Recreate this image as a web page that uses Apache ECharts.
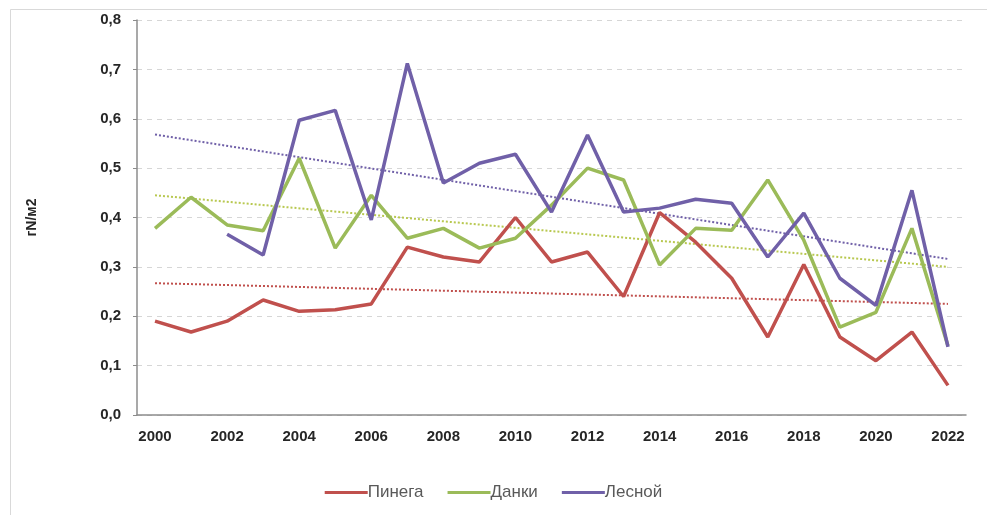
<!DOCTYPE html>
<html>
<head>
<meta charset="utf-8">
<script src="https://cdn.jsdelivr.net/npm/echarts@6/dist/echarts.min.js"></script>
<style>html,body{margin:0;padding:0;background:#fff}#c{width:987px;height:515px}</style>
</head>
<body>
<div id="c"></div>
<script>
var years = ['2000','2001','2002','2003','2004','2005','2006','2007','2008','2009','2010','2011','2012','2013','2014','2015','2016','2017','2018','2019','2020','2021','2022'];
var pinega = [0.19,0.168,0.19,0.233,0.21,0.213,0.225,0.34,0.32,0.31,0.40,0.31,0.33,0.24,0.41,0.35,0.277,0.158,0.305,0.158,0.11,0.168,0.06];
var danki  = [0.378,0.441,0.385,0.373,0.52,0.338,0.445,0.358,0.378,0.338,0.358,0.425,0.50,0.476,0.304,0.378,0.374,0.476,0.354,0.178,0.208,0.378,0.14];
var lesnoy = [null,null,0.366,0.324,0.597,0.617,0.395,0.712,0.47,0.51,0.528,0.411,0.567,0.411,0.419,0.437,0.429,0.32,0.409,0.277,0.222,0.455,0.138];
// trend line endpoints (2000, 2022)
var trendPinega = [0.267, 0.225];
var trendDanki  = [0.445, 0.300];
var trendLesnoy = [0.568, 0.316];
var yTicks = ['0,0','0,1','0,2','0,3','0,4','0,5','0,6','0,7','0,8'];
var names = ['Пинега','Данки','Лесной'];
var colors = ['#C0504D','#9BBB59','#7060A8'];

function trend(ends){ return [[years[0], ends[0]], [years[years.length-1], ends[1]]]; }
function lineS(name, data, color){
  return {name:name,type:'line',data:data,symbol:'none',smooth:false,
    lineStyle:{color:color,width:3.5},itemStyle:{color:color},z:3};
}
function trendS(data, color){
  return {type:'line',data:data,symbol:'none',silent:true,
    lineStyle:{color:color,width:2,type:[2,2]},z:2};
}
var chart = echarts.init(document.getElementById('c'));
chart.setOption({
  animation:false,
  backgroundColor:'#fff',
  graphic:[{type:'rect',shape:{x:10.5,y:9.5,width:1000,height:520},style:{fill:'none',stroke:'#d9d9d9',lineWidth:1},silent:true}],
  grid:{left:137,right:21,top:20,bottom:100},
  legend:{data:names,top:479,left:'center',icon:'rect',itemWidth:43,itemHeight:3,itemGap:24,
    textStyle:{fontFamily:'Liberation Sans, Arial',fontSize:17,color:'#595959',padding:[0,0,0,-5]}},
  xAxis:{type:'category',data:years,boundaryGap:true,
    axisLine:{lineStyle:{color:'#8c8c8c',width:1.5}},
    axisTick:{interval:0,length:4,lineStyle:{color:'#8c8c8c'}},
    axisLabel:{interval:1,margin:14,fontFamily:'Liberation Sans, Arial',fontWeight:'bold',fontSize:15,color:'#262626'}},
  yAxis:{type:'value',min:0,max:0.8,interval:0.1,
    name:'гN/м2',nameLocation:'middle',nameGap:98,nameRotate:90,
    nameTextStyle:{fontFamily:'Liberation Sans, Arial',fontWeight:'bold',fontSize:14,color:'#262626'},
    axisLine:{show:true,lineStyle:{color:'#8c8c8c',width:1.5}},
    axisTick:{show:true,length:4,lineStyle:{color:'#8c8c8c'}},
    axisLabel:{margin:16,fontFamily:'Liberation Sans, Arial',fontWeight:'bold',fontSize:15,color:'#262626',
      formatter:function(v){return yTicks[Math.round(v*10)];}},
    splitLine:{lineStyle:{color:'#d6d6d6',type:[5,5],width:1}}},
  series:[
    trendS(trend(trendPinega), colors[0]),
    trendS(trend(trendDanki), '#b8c850'),
    trendS(trend(trendLesnoy), colors[2]),
    lineS(names[0], pinega, colors[0]),
    lineS(names[1], danki, colors[1]),
    lineS(names[2], lesnoy, colors[2])
  ]
});
</script>
</body>
</html>
